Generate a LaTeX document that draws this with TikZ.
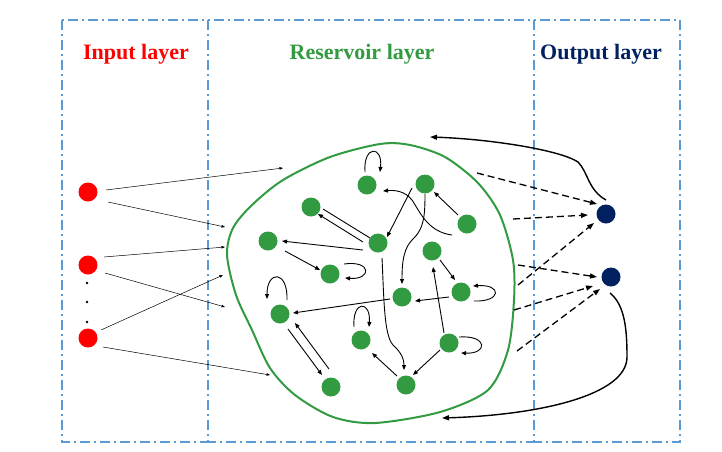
\documentclass[tikz,border=0pt]{standalone}
\usepackage{fontspec}
\setmainfont{Liberation Serif}
\usetikzlibrary{arrows.meta,calc}
\definecolor{resgreen}{RGB}{50,155,65}
\definecolor{inred}{RGB}{255,0,0}
\definecolor{outnavy}{RGB}{0,32,96}
\definecolor{boxblue}{RGB}{91,155,213}
\begin{document}
\begin{tikzpicture}[x=1pt,y=-1pt,
  layerbox/.style={draw=boxblue,line width=1.6pt,dash pattern=on 10pt off 4pt on 2pt off 4pt},
  gnode/.style={circle,fill=resgreen,minimum size=19pt,inner sep=0pt},
  rnode/.style={circle,fill=inred,minimum size=19pt,inner sep=0pt},
  onode/.style={circle,fill=outnavy,minimum size=19pt,inner sep=0pt},
  dotnode/.style={circle,fill=black,minimum size=2.6pt,inner sep=0pt},
  lbl/.style={font=\fontsize{22}{26}\selectfont\bfseries,anchor=base},
  redge/.style={line width=0.9pt,-{Triangle[length=5pt,width=4pt]}},
  plainedge/.style={line width=0.9pt},
  inedge/.style={line width=0.5pt,-{Triangle[length=3.5pt,width=2.5pt]}},
  outedge/.style={line width=1.3pt,dash pattern=on 7pt off 4pt,-{Triangle[length=7pt,width=5pt]}},
  fbedge/.style={line width=1.4pt,-{Triangle[length=7pt,width=5pt]}},
  blob/.style={draw=resgreen,line width=2pt}
]
\useasboundingbox (0,0) rectangle (722,451);
% layer boxes
\draw[layerbox] (62,20) rectangle (208,442);
\draw[layerbox] (208,20) rectangle (534,442);
\draw[layerbox] (534,20) rectangle (680,442);
% labels
\node[lbl,text=inred] (inlbl) at (136,59) {Input layer};
\node[lbl,text=resgreen] (reslbl) at (362,59) {Reservoir layer};
\node[lbl,text=outnavy] (outlbl) at (601,59) {Output layer};
% reservoir boundary
\draw[blob] plot[smooth cycle] coordinates {(380,144) (410,145) (445,157) (478,183) (500,215) (513,260) (514,300) (508,350) (488,390) (440,412) (375,423) (333,417) (295,395) (270,368) (252,330) (236,295) (227,255) (233,228) (252,205) (283,180) (330,157)};
% input nodes
\node[rnode] (R1) at (88,192) {};
\node[rnode] (R2) at (88,265) {};
\node[rnode] (R3) at (88,338) {};
\node[dotnode] (d1) at (87,283) {};
\node[dotnode] (d2) at (87,302) {};
\node[dotnode] (d3) at (87,322) {};
% reservoir nodes
\node[gnode] (G1) at (367,185) {};
\node[gnode] (G2) at (425,184) {};
\node[gnode] (G3) at (311,207) {};
\node[gnode] (G4) at (467,224) {};
\node[gnode] (G5) at (268,241) {};
\node[gnode] (G6) at (378,243) {};
\node[gnode] (G7) at (432,251) {};
\node[gnode] (G8) at (330,274) {};
\node[gnode] (G9) at (461,292) {};
\node[gnode] (G10) at (402,297) {};
\node[gnode] (G11) at (280,314) {};
\node[gnode] (G12) at (361,340) {};
\node[gnode] (G13) at (449,343) {};
\node[gnode] (G14) at (331,387) {};
\node[gnode] (G15) at (406,385) {};
% output nodes
\node[onode] (B1) at (606,214) {};
\node[onode] (B2) at (611,277) {};
% free ends
\coordinate (i1) at (283,168);
\coordinate (i2) at (225,227);
\coordinate (i3) at (225,247);
\coordinate (i4) at (225,307);
\coordinate (i5) at (223,275);
\coordinate (i6) at (270,375);
\coordinate (o1) at (477,173);
\coordinate (o2) at (513,219);
\coordinate (o3) at (518,285);
\coordinate (o4) at (518,265);
\coordinate (o5) at (514,310);
\coordinate (o6) at (517,351);
\coordinate (f1) at (430,137);
\coordinate (f2) at (442,418);
% input connections
\draw[inedge] ($(R1)+(18,-2)$) -- (i1);
\draw[inedge] ($(R1)+(20,10)$) -- (i2);
\draw[inedge] ($(R2)+(16,-8)$) -- (i3);
\draw[inedge] ($(R2)+(17,8)$) -- (i4);
\draw[inedge] ($(R3)+(13,-8)$) -- (i5);
\draw[inedge] ($(R3)+(15,9)$) -- (i6);
% reservoir edges
\draw[plainedge] ($(G3)+(12,2)$) -- ($(G6)+(-8,-5)$);
\draw[redge] ($(G6)+(-15,-1)$) -- ($(G3)+(7,7)$);
\draw[redge] ($(G6)+(-15,7)$) -- ($(G5)+(14,0)$);
\draw[redge] ($(G5)+(17,10)$) -- ($(G8)+(-10,-4)$);
\draw[redge] ($(G2)+(-13,4)$) -- ($(G6)+(9,-6)$);
\draw[redge] ($(G4)+(-9,-9)$) -- ($(G2)+(9,8)$);
\draw[redge] ($(G4)+(-15,11)$) .. controls (428,232) and (420,212) .. (412,200) .. controls (405,191) and (395,190) .. ($(G1)+(16,6)$);
\draw[redge] ($(G2)+(0,10)$) .. controls (425,215) and (424,228) .. (414,238) .. controls (404,247) and (402,260) .. ($(G10)+(0,-13)$);
\draw[redge] ($(G6)+(4,15)$) .. controls (384,300) and (384,335) .. (393,345) .. controls (402,353) and (404,360) .. ($(G15)+(-2,-15)$);
\draw[redge] ($(G7)+(8,9)$) -- ($(G9)+(-6,-12)$);
\draw[redge] ($(G9)+(-12,5)$) -- ($(G10)+(13,4)$);
\draw[redge] ($(G10)+(-12,2)$) -- ($(G11)+(13,-1)$);
\draw[redge] ($(G13)+(-5,-10)$) -- ($(G7)+(1,16)$);
\draw[redge] ($(G13)+(-9,7)$) -- ($(G15)+(7,-10)$);
\draw[redge] ($(G15)+(-9,-9)$) -- ($(G12)+(11,13)$);
\draw[redge] ($(G11)+(8,15)$) -- ($(G14)+(-9,-12)$);
\draw[redge] ($(G14)+(-2,-18)$) -- ($(G11)+(15,9)$);
% self loops
\draw[redge] ($(G1)+(-2,-13)$) .. controls (363,145) and (383,145) .. ($(G1)+(13,-13)$);
\draw[redge] ($(G8)+(14,-10)$) .. controls (372,260) and (372,280) .. ($(G8)+(15,4)$);
\draw[redge] ($(G11)+(7,-14)$) .. controls (288,270) and (267,270) .. ($(G11)+(-13,-15)$);
\draw[redge] ($(G9)+(13,9)$) .. controls (502,302) and (502,284) .. ($(G9)+(12,-6)$);
\draw[redge] ($(G12)+(-7,-13)$) .. controls (352,300) and (371,300) .. ($(G12)+(8,-13)$);
\draw[redge] ($(G13)+(10,-6)$) .. controls (488,335) and (488,354) .. ($(G13)+(12,10)$);
% output connections
\draw[outedge] (o1) -- ($(B1)+(-9,-10)$);
\draw[outedge] (o2) -- ($(B1)+(-18,1)$);
\draw[outedge] (o3) -- ($(B1)+(-12,9)$);
\draw[outedge] (o4) -- ($(B2)+(-14,0)$);
\draw[outedge] (o5) -- ($(B2)+(-18,9)$);
\draw[outedge] (o6) -- ($(B2)+(-11,12)$);
% feedback
\draw[fbedge] ($(B1)+(0,-14)$) .. controls (588,190) and (588,172) .. (578,162) .. controls (560,150) and (490,139) .. (f1);
\draw[fbedge] ($(B2)+(-1,16)$) .. controls (625,305) and (627,330) .. (627,357) .. controls (627,395) and (540,415) .. (f2);
\end{tikzpicture}
\end{document}
